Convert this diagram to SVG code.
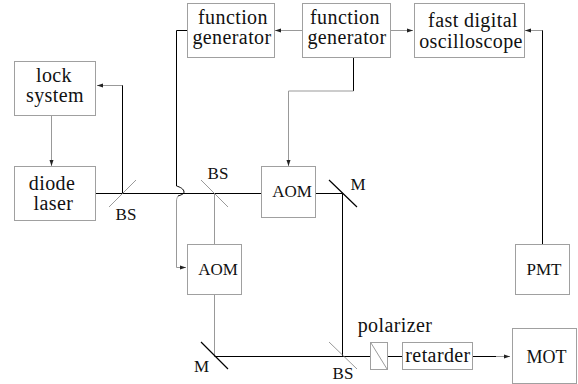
<svg xmlns="http://www.w3.org/2000/svg" width="578" height="384" viewBox="0 0 578 384">
<style>
text{font-family:"Liberation Serif",serif;fill:#111;text-anchor:middle}
.l{font-size:20px;letter-spacing:.4px}.m{font-size:18px}.s{font-size:17px}
.b{fill:#fff;stroke:#a0a0a0;stroke-width:1}
.k{fill:none;stroke:#000;stroke-width:1}
.g{fill:none;stroke:#999;stroke-width:1}
.t{fill:none;stroke:#808080;stroke-width:.8}
.h{fill:none;stroke:#000;stroke-width:1.200}
</style>
<defs><marker id="a" markerUnits="userSpaceOnUse" markerWidth="7" markerHeight="5" refX="6" refY="2.5" orient="auto"><path d="M0 .5L6 2.5L0 4.5Z" fill="#222"/></marker></defs>
<rect width="578" height="384" fill="#fff"/>
<g id="connectors">
<path class="k" d="M96 193.500H261M316 193.500H342.500V356.500M214.500 356.500H370M387 356.500H402M472 356.500H496"/>
<path class="g" d="M496 356.500H510" marker-end="url(#a)"/>
<path class="k" d="M122.500 193V85"/>
<path class="g" d="M122.500 85.500H97" marker-end="url(#a)"/>
<path class="k" d="M187 30.500H176.500V186"/>
<path class="k" d="M176.500 186C180 187 184 189 184 192C184 194 181 195 178 196"/>
<path class="g" d="M178 196C177 198 176.500 199 176.500 201V267.500H186" marker-end="url(#a)"/>
<path class="g" d="M51.500 115V166" marker-end="url(#a)"/>
<path class="g" d="M302 30.500H275" marker-end="url(#a)"/>
<path class="g" d="M391 30.500H413" marker-end="url(#a)"/>
<path class="k" d="M353.500 57V91"/>
<path class="g" d="M353.500 91H288.500V166" marker-end="url(#a)"/>
<path class="k" d="M542.500 244V30"/>
<path class="g" d="M542.500 30.500H525" marker-end="url(#a)"/>
<path class="g" d="M214.500 193V244M214.500 295V356"/>
<path class="t" d="M136 180L109 207M201 180L228 207M329 342L357 369"/>
<path class="h" d="M329 180L357 207M201 342L228 369"/>
</g>
<g id="function-generator-1"><rect class="b" x="187.500" y="3.500" width="87" height="54"/><text class="l" x="233" y="24">function</text><text class="l" x="232" y="44">generator</text></g>
<g id="function-generator-2"><rect class="b" x="302.500" y="3.500" width="88" height="54"/><text class="l" x="345" y="24">function</text><text class="l" x="347" y="44">generator</text></g>
<g id="oscilloscope"><rect class="b" x="414.500" y="3.500" width="110" height="54"/><text class="l" x="473" y="27">fast digital</text><text class="l" x="471" y="48">oscilloscope</text></g>
<g id="lock-system"><rect class="b" x="14.500" y="61.500" width="81" height="54"/><text class="l" x="54" y="82">lock</text><text class="l" x="55" y="102">system</text></g>
<g id="diode-laser"><rect class="b" x="14.500" y="166.500" width="81" height="54"/><text class="l" x="52" y="190">diode</text><text class="l" x="53.500" y="210">laser</text></g>
<g id="aom-1"><rect class="b" x="261.500" y="166.500" width="54" height="51"/><text class="s" x="292" y="197">AOM</text></g>
<g id="aom-2"><rect class="b" x="187.500" y="244.500" width="54" height="50"/><text class="s" x="218" y="275">AOM</text></g>
<g id="pmt"><rect class="b" x="515.500" y="244.500" width="54" height="50"/><text class="s" x="544" y="275">PMT</text></g>
<g id="polarizer"><rect class="b" x="370.500" y="342.500" width="17" height="27"/><path class="t" d="M371 343L387 369"/><text class="l" x="395" y="332">polarizer</text></g>
<g id="retarder"><rect class="b" x="402.500" y="342.500" width="70" height="27"/><text class="l" x="438" y="362">retarder</text></g>
<g id="mot"><rect class="b" x="512.500" y="328.500" width="64" height="55"/><text class="m" x="546.500" y="363">MOT</text></g>
<g id="labels"><text class="s" x="218" y="179">BS</text><text class="s" x="126" y="220">BS</text><text class="s" x="343" y="379">BS</text><text class="s" x="358" y="190">M</text><text class="s" x="201.500" y="372">M</text></g>
</svg>
